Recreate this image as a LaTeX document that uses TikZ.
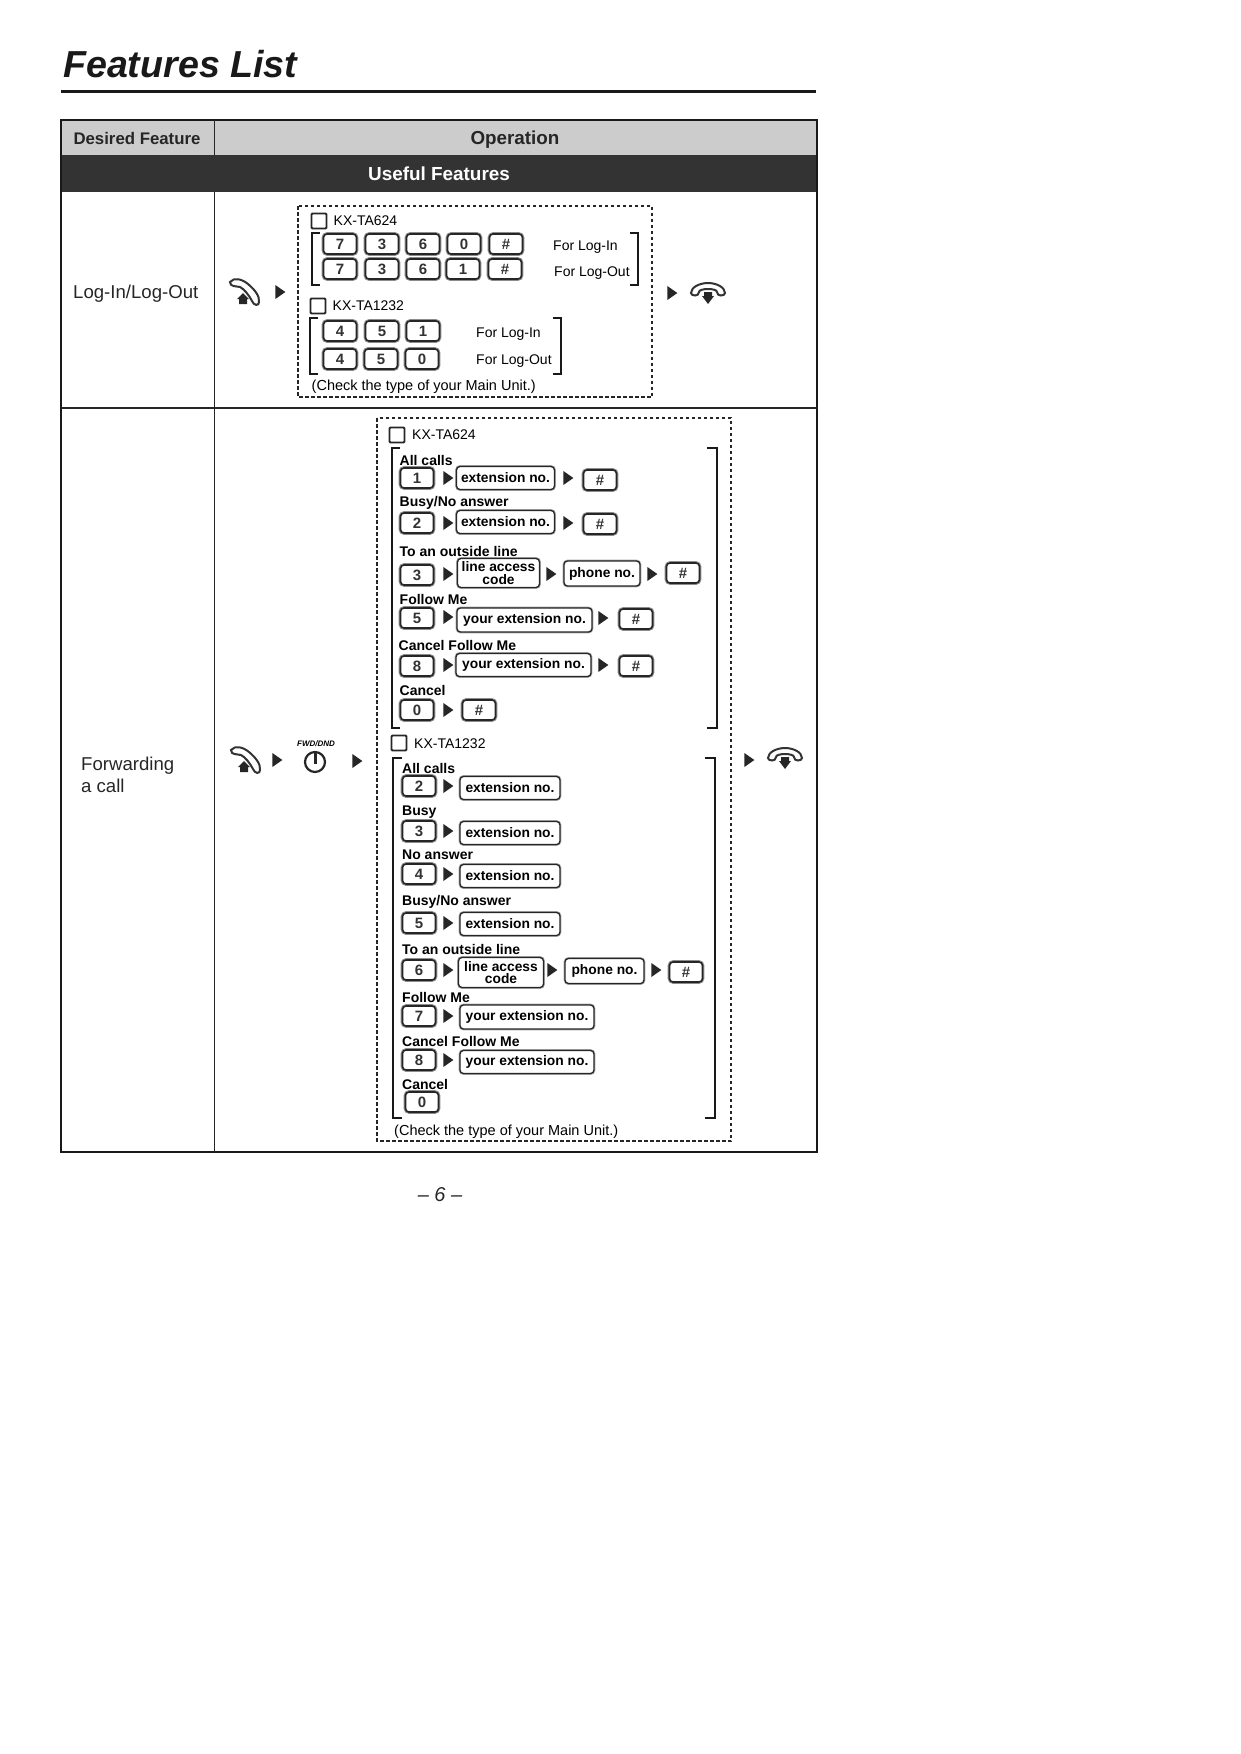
\documentclass[tikz,border=0pt]{standalone}
\usepackage{fontspec}
\usetikzlibrary{shapes.geometric}
\setmainfont{Liberation Sans}

\tikzset{
	x=1pt, y=-1pt,
	keycap/.style={draw=black!85, line width=1.6pt, rounded corners=3.5pt, fill=white, minimum width=33pt, minimum height=20pt, inner sep=0pt, font=\fontsize{15}{15}\selectfont\bfseries, text=black!80, preaction={draw=black!45, line width=3.6pt}},
	numbox/.style={draw=black!85, line width=1.3pt, rounded corners=3.5pt, fill=white, inner sep=0pt, align=center, font=\fontsize{13.8}{12.5}\selectfont\bfseries, preaction={draw=black!35, line width=2.8pt}},
	pointer/.style={isosceles triangle, isosceles triangle apex angle=70, fill=black!85, inner sep=0pt, minimum height=10pt, minimum width=12pt, shape border rotate=0},
	tickbox/.style={draw=black!85, line width=1.8pt, rounded corners=1pt, minimum width=15pt, minimum height=15pt, inner sep=0pt},
	modeltxt/.style={anchor=west, inner sep=0pt, font=\fontsize{14}{14}\selectfont},
	calltxt/.style={anchor=west, inner sep=0pt, font=\fontsize{14}{14}\selectfont\bfseries},
	celltxt/.style={anchor=west, inner sep=0pt, align=left, font=\fontsize{18.6}{21.5}\selectfont, text=black!85},
	optbox/.style={draw=black!85, line width=1.5pt, dash pattern=on 3.5pt off 2.5pt},
	brack/.style={draw=black!90, line width=1.5pt},
	offhook/.pic={
		\draw[black!80, fill=white, line width=2pt] (-16,-10) .. controls (-12,-15) and (-4,-13) .. (2,-8) .. controls (8,-3) and (14,4) .. (13,10) .. controls (13,14) and (8,14) .. (6,9) .. controls (3,3) and (-2,-3) .. (-6,-5) .. controls (-10,-6) and (-16,-5) .. cycle;
		\fill[black!85] (-3,1) -- (3,7) -- (1,7) -- (1,12) -- (-7,12) -- (-7,7) -- (-9,7) -- cycle;
	},
	onhook/.pic={
		\draw[black!80, fill=white, line width=2pt] (-17,1) .. controls (-17,-5) and (-8,-9) .. (0,-9) .. controls (8,-9) and (17,-5) .. (17,1) .. controls (17,4) and (9,5) .. (9,0) .. controls (9,-4) and (-9,-4) .. (-9,0) .. controls (-9,5) and (-17,4) .. cycle;
		\fill[black!85] (-4,0) -- (4,0) -- (4,4) -- (6,4) -- (0,12) -- (-6,4) -- (-4,4) -- cycle;
	},
	fwdbutton/.pic={
		\draw[black!85, line width=2.2pt] (0,0) circle (10);
		\draw[black!85, line width=3pt] (0,-9) -- (0,2);
	},
}

\begin{document}
\begin{tikzpicture}
	\useasboundingbox (0,0) rectangle (1241,1754);

	% heading
	\node[anchor=base west, inner sep=0pt, font=\fontsize{37.6}{38}\selectfont\bfseries\itshape, text=black!90] (title) at (63,77) {Features List};
	\coordinate (ruleL) at (61,91);
	\coordinate (ruleR) at (816,91);
	\draw[line width=3pt, black!90] (ruleL) -- (ruleR);

	% table
	\fill[black!20] (61,120) rectangle (817,155);
	\fill[black!80] (61,155) rectangle (817,192);
	\draw[line width=2.4pt, black!90] (61,120) rectangle (817,1152);
	\draw[line width=1.6pt, black!85] (214.5,120) -- (214.5,155);
	\draw[line width=1.6pt, black!85] (214.5,192) -- (214.5,1152);
	\draw[line width=2pt, black!85] (61,407.5) -- (817,407.5);

	\node[inner sep=0pt, font=\fontsize{16.8}{17}\selectfont\bfseries, text=black!85] (desired) at (137,138) {Desired Feature};
	\node[inner sep=0pt, font=\fontsize{18.8}{19}\selectfont\bfseries, text=black!85] (operation) at (515,140) {Operation};
	\node[inner sep=0pt, font=\fontsize{18.9}{19}\selectfont\bfseries, text=white] (useful) at (439,174) {Useful Features};

	% log-in row
	\node[celltxt] (login) at (73,294) {Log-In/Log-Out};
	\pic at (246,292) {offhook};
	\node[pointer] (p1) at (279,292) {};
	\draw[optbox] (298,206) rectangle (652,397);
	\node[pointer] (p2) at (671,293) {};
	\pic at (708,292) {onhook};

	\node[tickbox] (tick1) at (319,221) {};
	\node[modeltxt] (model1) at (333.5,221) {KX-TA624};
	\foreach \xk/\lab [count=\i] in {340/7,382/3,423/6,464/0,506/\#}
		\node[keycap] (a\i) at (\xk,244) {\lab};
	\foreach \xk/\lab [count=\i] in {340/7,382/3,423/6,463/1,505/\#}
		\node[keycap] (b\i) at (\xk,269) {\lab};
	\draw[brack] (320,233) -- (312,233) -- (312,285) -- (320,285);
	\draw[brack] (630,233) -- (638,233) -- (638,285) -- (630,285);
	\node[modeltxt] (in1) at (553,247) {For Log-In};
	\node[modeltxt] (out1) at (554,273) {For Log-Out};

	\node[tickbox] (tick2) at (318,306) {};
	\node[modeltxt] (model2) at (332.5,306) {KX-TA1232};
	\foreach \xk/\lab [count=\i] in {340/4,382/5,423/1}
		\node[keycap] (c\i) at (\xk,331) {\lab};
	\foreach \xk/\lab [count=\i] in {340/4,381/5,422/0}
		\node[keycap] (d\i) at (\xk,359) {\lab};
	\draw[brack] (318,318) -- (310,318) -- (310,374) -- (318,374);
	\draw[brack] (553,318) -- (561,318) -- (561,374) -- (553,374);
	\node[modeltxt] (in2) at (476,334) {For Log-In};
	\node[modeltxt] (out2) at (476,361) {For Log-Out};
	\node[modeltxt, font=\fontsize{14.5}{14.5}\selectfont] (check1) at (311.5,387) {(Check the type of your Main Unit.)};

	% forwarding row
	\node[celltxt] (fwdcell) at (81,775) {Forwarding\\a call};
	\pic at (247,760) {offhook};
	\node[pointer] (p3) at (276,760) {};
	\pic at (315,762) {fwdbutton};
	\node[inner sep=0pt, font=\fontsize{8}{8}\selectfont\bfseries\itshape] (fwdtxt) at (316,744) {FWD/DND};
	\node[pointer] (p4) at (356,761) {};
	\draw[optbox] (377,418) rectangle (731,1141);
	\node[pointer] (p5) at (748,760) {};
	\pic at (785,757) {onhook};

	% KX-TA624 block
	\node[tickbox] (tick3) at (397,435) {};
	\node[modeltxt] (model3) at (412,435) {KX-TA624};
	\draw[brack] (400,448) -- (392,448) -- (392,728) -- (400,728);
	\draw[brack] (707,448) -- (717,448) -- (717,728) -- (707,728);

	\node[calltxt] (e1) at (399.5,460) {All calls};
	\node[keycap] (e1k) at (417,478) {1};
	\node[pointer] (e1p) at (447,478) {};
	\node[numbox, minimum width=98pt, minimum height=23pt] (e1b) at (505.5,478) {extension no.};
	\node[pointer] (e1q) at (567,478) {};
	\node[keycap] (e1h) at (600,480) {\#};

	\node[calltxt] (e2) at (399.5,503) {Busy/No answer};
	\node[keycap] (e2k) at (417,523) {2};
	\node[pointer] (e2p) at (447,523) {};
	\node[numbox, minimum width=98pt, minimum height=23pt] (e2b) at (505.5,522) {extension no.};
	\node[pointer] (e2q) at (567,523) {};
	\node[keycap] (e2h) at (600,524) {\#};

	\node[calltxt] (e3) at (399.5,551) {To an outside line};
	\node[keycap] (e3k) at (417,575) {3};
	\node[pointer] (e3p) at (447,574) {};
	\node[numbox, minimum width=82pt, minimum height=29pt] (e3b) at (498.5,573) {line access\\code};
	\node[pointer] (e3q) at (550,574) {};
	\node[numbox, minimum width=76pt, minimum height=25pt] (e3c) at (602,573.5) {phone no.};
	\node[pointer] (e3r) at (651,574) {};
	\node[keycap] (e3h) at (683,573) {\#};

	\node[calltxt] (e4) at (399.5,599) {Follow Me};
	\node[keycap] (e4k) at (417,618) {5};
	\node[pointer] (e4p) at (447,617) {};
	\node[numbox, minimum width=135pt, minimum height=24pt] (e4b) at (524.5,620) {your extension no.};
	\node[pointer] (e4q) at (602,618) {};
	\node[keycap] (e4h) at (636,619) {\#};

	\node[calltxt] (e5) at (398.5,645) {Cancel Follow Me};
	\node[keycap] (e5k) at (417,666) {8};
	\node[pointer] (e5p) at (447,665) {};
	\node[numbox, minimum width=135pt, minimum height=23pt] (e5b) at (523.5,665) {your extension no.};
	\node[pointer] (e5q) at (602,665) {};
	\node[keycap] (e5h) at (636,666) {\#};

	\node[calltxt] (e6) at (399.5,690) {Cancel};
	\node[keycap] (e6k) at (417,710) {0};
	\node[pointer] (e6p) at (447,710) {};
	\node[keycap] (e6h) at (479,710) {\#};

	% KX-TA1232 block
	\node[tickbox] (tick4) at (399,743) {};
	\node[modeltxt] (model4) at (414,744) {KX-TA1232};
	\draw[brack] (402,758) -- (393,758) -- (393,1118) -- (402,1118);
	\draw[brack] (705,758) -- (715,758) -- (715,1118) -- (705,1118);

	\foreach \lab/\ylab/\kk/\yk/\ybox [count=\i] in {All calls/768/2/786/788,Busy/812/3/831/833,No answer/855/4/874/876,Busy{/}No answer/902/5/923/924}
	{
		\node[calltxt] (f\i) at (402,\ylab) {\lab};
		\node[keycap] (f\i k) at (419,\yk) {\kk};
		\node[pointer] (f\i p) at (447,\yk) {};
		\node[numbox, minimum width=100pt, minimum height=23pt] (f\i b) at (510,\ybox) {extension no.};
	}

	\node[calltxt] (f5) at (402,949) {To an outside line};
	\node[keycap] (f5k) at (419,970) {6};
	\node[pointer] (f5p) at (447,970) {};
	\node[numbox, minimum width=85pt, minimum height=30pt] (f5b) at (501,972.5) {line access\\code};
	\node[pointer] (f5q) at (551,970) {};
	\node[numbox, minimum width=79pt, minimum height=25pt] (f5c) at (604.5,971) {phone no.};
	\node[pointer] (f5r) at (655,970) {};
	\node[keycap] (f5h) at (686,972) {\#};

	\node[calltxt] (f6) at (402,997) {Follow Me};
	\node[keycap] (f6k) at (419,1016) {7};
	\node[pointer] (f6p) at (447,1016) {};
	\node[numbox, minimum width=134pt, minimum height=24pt] (f6b) at (527,1017) {your extension no.};

	\node[calltxt] (f7) at (402,1041) {Cancel Follow Me};
	\node[keycap] (f7k) at (419,1060) {8};
	\node[pointer] (f7p) at (447,1060) {};
	\node[numbox, minimum width=134pt, minimum height=23pt] (f7b) at (527,1062) {your extension no.};

	\node[calltxt] (f8) at (402,1084) {Cancel};
	\node[keycap] (f8k) at (422,1102) {0};
	\node[modeltxt, font=\fontsize{14.5}{14.5}\selectfont] (check2) at (394,1132) {(Check the type of your Main Unit.)};

	% page number
	\node[inner sep=0pt, font=\fontsize{20}{20}\selectfont\itshape, text=black!85] (pagenum) at (440,1195) {-- 6 --};
\end{tikzpicture}
\end{document}
